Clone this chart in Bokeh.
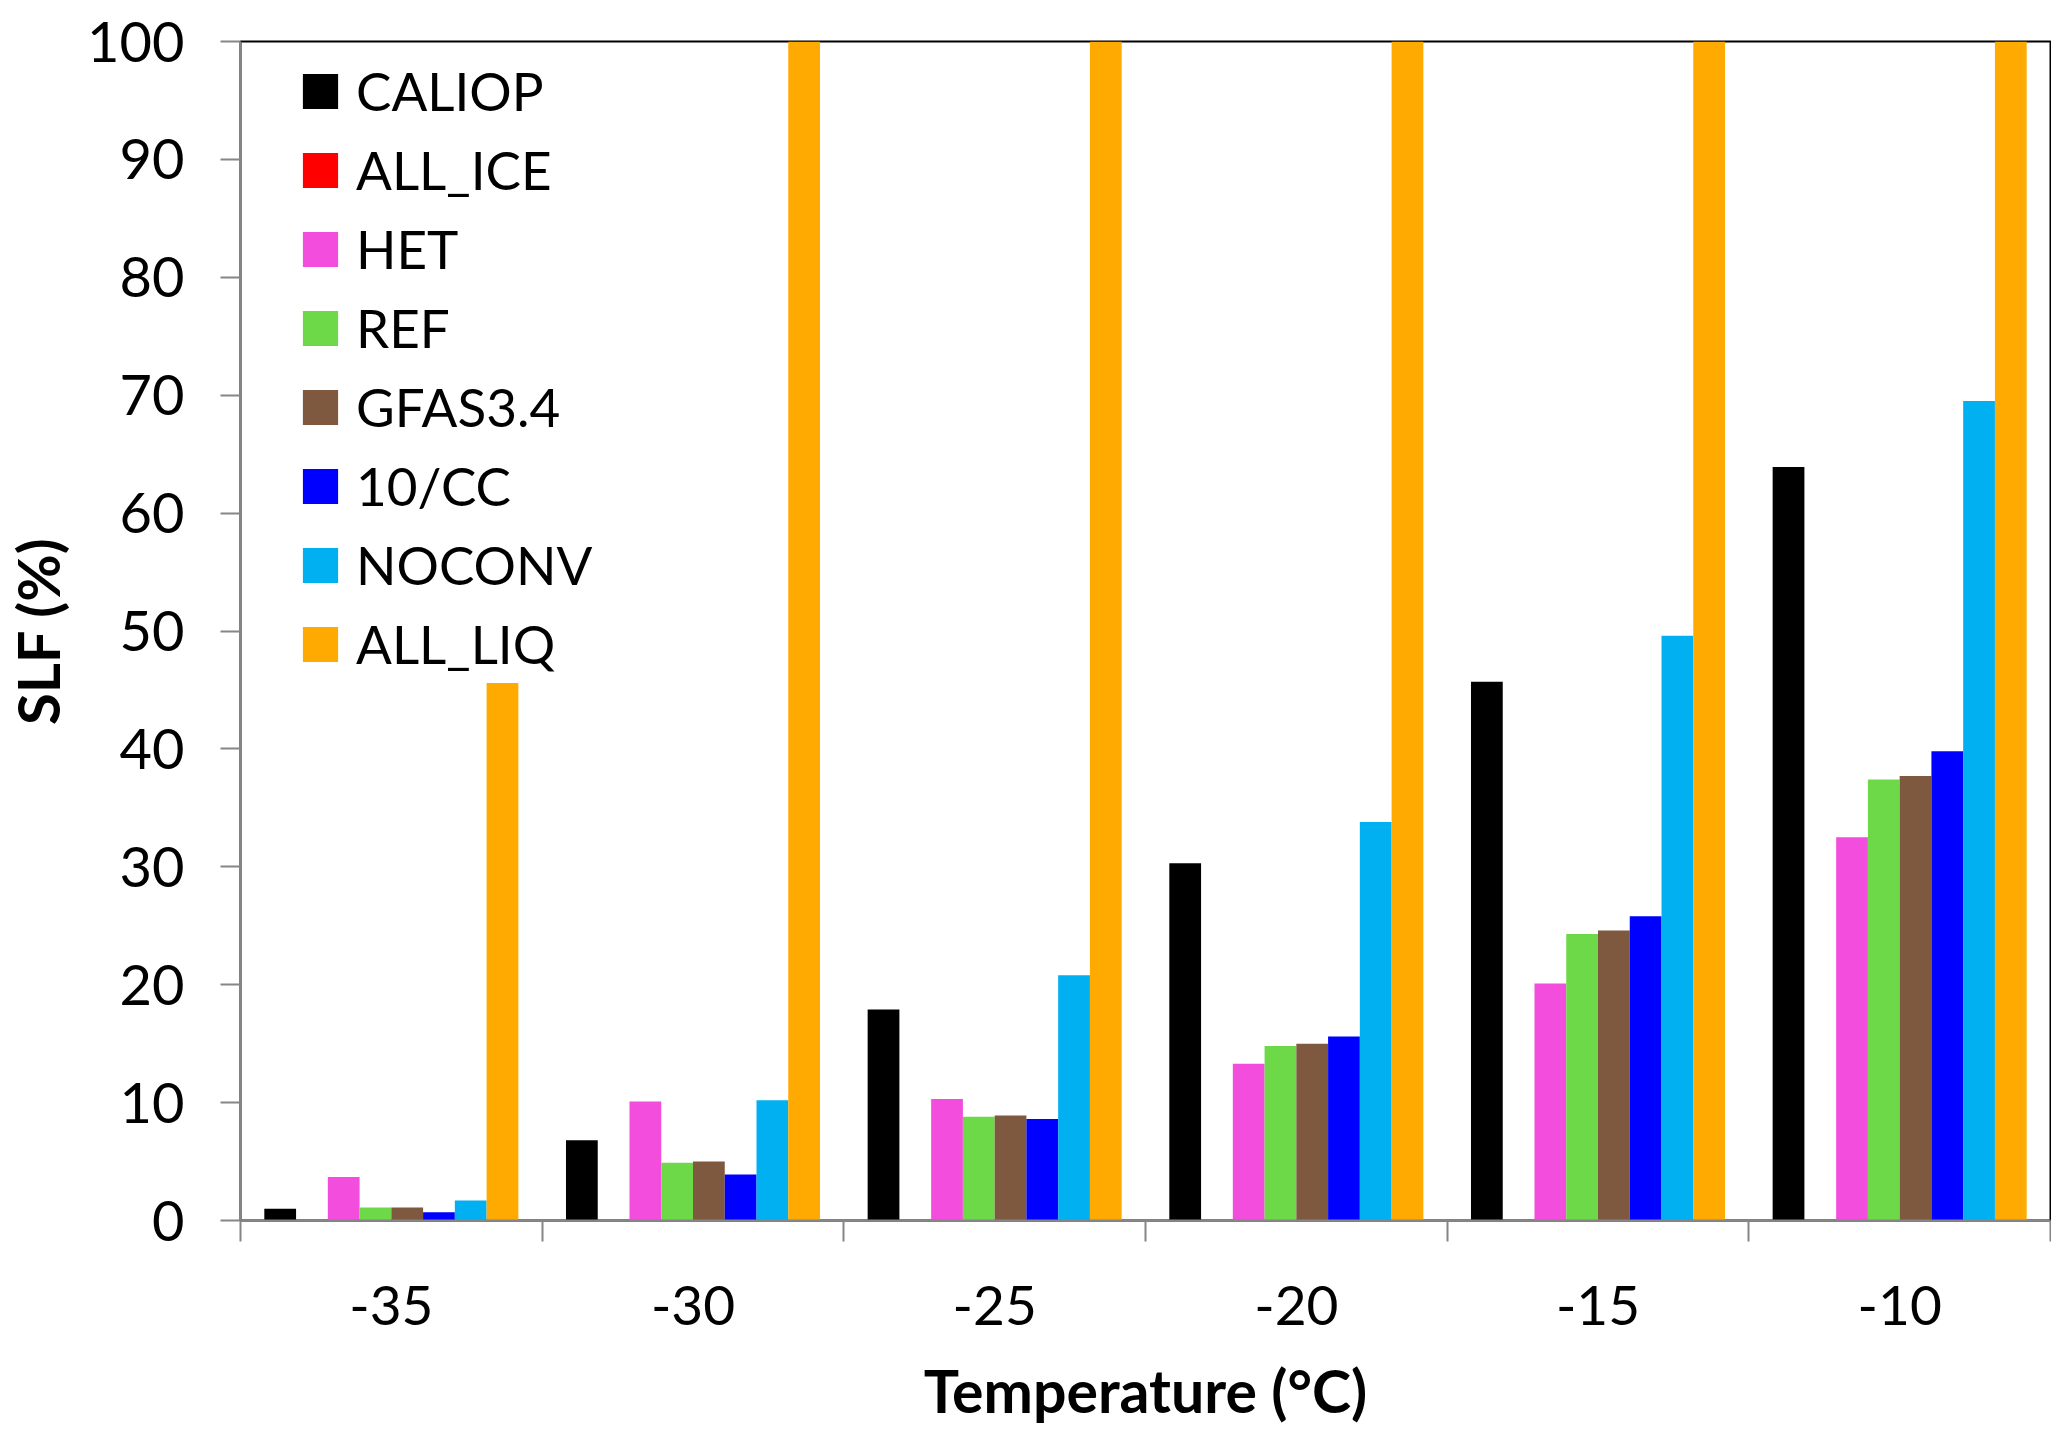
from bokeh.plotting import figure
from bokeh.models import (ColumnDataSource, Range1d, LinearAxis, FixedTicker,
                          Legend, LegendItem)
from bokeh.embed import file_html
from bokeh.resources import INLINE

temps = ["-35", "-30", "-25", "-20", "-15", "-10"]

series = ["CALIOP", "ALL_ICE", "HET", "REF", "GFAS3.4", "10/CC", "NOCONV", "ALL_LIQ"]
colors = ["#000000", "#FF0000", "#F24DDC", "#6ED948", "#7F5840", "#0000FF", "#00B0F0", "#FFAA00"]

caliop = [1.0, 6.8, 17.9, 30.3, 45.7, 63.9]
all_ice = [0, 0, 0, 0, 0, 0]
het = [3.7, 10.1, 10.3, 13.3, 20.1, 32.5]
ref = [1.1, 4.9, 8.8, 14.8, 24.3, 37.4]
gfas = [1.1, 5.0, 8.9, 15.0, 24.6, 37.7]
cc10 = [0.7, 3.9, 8.6, 15.6, 25.8, 39.8]
noconv = [1.7, 10.2, 20.8, 33.8, 49.6, 69.5]
all_liq = [45.6, 100, 100, 100, 100, 100]

values = [caliop, all_ice, het, ref, gfas, cc10, noconv, all_liq]

FONT = "Lato"
GRAY = "#868686"

p = figure(width=2051, height=1428, output_backend="svg", toolbar_location=None,
           x_range=Range1d(-0.5, 5.5), y_range=Range1d(0, 100),
           x_axis_location=None,
           min_border_left=233, min_border_right=1, min_border_top=41, min_border_bottom=204)
p.xgrid.visible = False
p.ygrid.visible = False
p.outline_line_color = "black"
p.outline_line_width = 2
p.background_fill_color = "white"
p.border_fill_color = "white"

# Excel-style clustered columns: gap width 150%
n = len(series)
slot = 1.0 / (n + 1.5)
items = []
for i, (name, col, vals) in enumerate(zip(series, colors, values)):
    off = -0.5 + (0.75 + i + 0.5) * slot
    src = ColumnDataSource(dict(x=[k + off for k in range(len(temps))], top=vals))
    r = p.vbar(x="x", top="top", width=slot, bottom=0, source=src,
               fill_color=col, line_color=None)
    items.append(LegendItem(label=name, renderers=[r]))

legend = Legend(items=items, location=(58, 545),
                border_line_color=None, background_fill_alpha=0,
                margin=0, padding=0, glyph_width=44, glyph_height=44,
                label_standoff=14, spacing=16,
                label_text_font=FONT, label_text_font_size="53px",
                label_text_color="black")
p.add_layout(legend)

# y axis
ya = p.yaxis[0]
ya.ticker = FixedTicker(ticks=list(range(0, 101, 10)))
ya.major_tick_out = 20
ya.major_tick_in = 0
ya.minor_tick_line_color = None
ya.axis_line_color = GRAY
ya.axis_line_width = 2
ya.major_tick_line_color = GRAY
ya.major_tick_line_width = 2
ya.major_label_text_font = FONT
ya.major_label_text_font_size = "56px"
ya.major_label_text_color = "black"
ya.major_label_standoff = 36
ya.axis_label = "SLF (%)"
ya.axis_label_text_font = FONT
ya.axis_label_text_font_style = "bold"
ya.axis_label_text_font_size = "58px"
ya.axis_label_text_color = "black"
ya.axis_label_standoff = 12

# x axis: tick marks at category boundaries
xt = LinearAxis(ticker=FixedTicker(ticks=[k - 0.5 for k in range(len(temps) + 1)]))
xt.major_label_overrides = {k - 0.5: "" for k in range(len(temps) + 1)}
xt.major_label_text_font_size = "1px"
xt.major_label_standoff = 0
xt.major_tick_out = 21
xt.major_tick_in = 0
xt.minor_tick_line_color = None
xt.axis_line_color = GRAY
xt.axis_line_width = 2
xt.major_tick_line_color = GRAY
xt.major_tick_line_width = 2
p.add_layout(xt, "below")

# x axis: labels at category centres
xl = LinearAxis(ticker=FixedTicker(ticks=list(range(len(temps)))))
xl.major_label_overrides = {k: t for k, t in enumerate(temps)}
xl.axis_line_color = None
xl.major_tick_line_color = None
xl.minor_tick_line_color = None
xl.major_tick_out = 0
xl.major_tick_in = 0
xl.major_label_standoff = 44
xl.major_label_text_font = FONT
xl.major_label_text_font_size = "55px"
xl.major_label_text_color = "black"
xl.axis_label = "Temperature (°C)"
xl.axis_label_text_font = FONT
xl.axis_label_text_font_style = "bold"
xl.axis_label_text_font_size = "59px"
xl.axis_label_text_color = "black"
xl.axis_label_standoff = 27
p.add_layout(xl, "below")

open("out.html", "w").write(file_html(p, INLINE))
